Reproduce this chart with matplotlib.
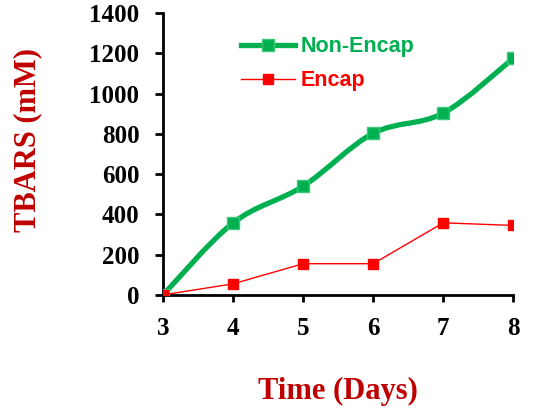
import matplotlib.pyplot as plt
from matplotlib.path import Path
from matplotlib.patches import PathPatch
from matplotlib.lines import Line2D

days = [3, 4, 5, 6, 7, 8]
non_encap = [0, 358, 540, 803, 903, 1175]
encap = [0, 55, 155, 155, 358, 345]

GREEN = "#00B050"
RED = "#FF0000"
LABEL_RED = "#C00000"


def smooth_path(xs, ys):
    # Bezier segments through the points (like a spreadsheet "smoothed line")
    pts = list(zip(xs, ys))
    verts = [pts[0]]
    codes = [Path.MOVETO]
    n = len(pts)
    for i in range(n - 1):
        p0 = pts[i - 1] if i > 0 else pts[i]
        p1 = pts[i]
        p2 = pts[i + 1]
        p3 = pts[i + 2] if i + 2 < n else pts[i + 1]
        c1 = (p1[0] + (p2[0] - p0[0]) / 6, p1[1] + (p2[1] - p0[1]) / 6)
        c2 = (p2[0] - (p3[0] - p1[0]) / 6, p2[1] - (p3[1] - p1[1]) / 6)
        verts += [c1, c2, p2]
        codes += [Path.CURVE4] * 3
    return Path(verts, codes)


fig = plt.figure(figsize=(5.33, 4.09), dpi=100)
ax = fig.add_axes([0.306, 0.279, 0.657, 0.689])

ax.add_patch(PathPatch(smooth_path(days, non_encap), facecolor="none",
                       edgecolor=GREEN, lw=3.8, capstyle="round", zorder=3))
ax.plot(days, non_encap, ls="none", marker="s", ms=9, color=GREEN,
        mec="#3cc878", mew=1.0, zorder=4)
ax.plot(days, encap, color=RED, lw=1.0, marker="s", ms=7, zorder=5)

ax.set_xlim(3, 8)
ax.set_ylim(0, 1400)
ax.set_xticks(days)
ax.set_yticks(range(0, 1401, 200))

for s in ["top", "right"]:
    ax.spines[s].set_visible(False)
for s in ["left", "bottom"]:
    ax.spines[s].set_linewidth(2)
    ax.spines[s].set_color("black")

ax.tick_params(axis="y", direction="out", length=6, width=2, pad=11)
ax.tick_params(axis="x", direction="out", length=5, width=2, pad=11)
for lab in ax.get_xticklabels() + ax.get_yticklabels():
    lab.set_fontfamily("Liberation Serif")
    lab.set_fontweight("bold")
    lab.set_fontsize(18)

ax.set_ylabel("TBARS (mM)", fontfamily="Liberation Serif", fontweight="bold",
              fontsize=22, color=LABEL_RED)
ax.set_xlabel("Time (Days)", fontfamily="Liberation Serif", fontweight="bold",
              fontsize=22, color=LABEL_RED)
ax.yaxis.set_label_coords(-0.346, 0.55)
ax.xaxis.set_label_coords(0.5, -0.29)
ax.patch.set_alpha(0)

handles = [
    Line2D([], [], color=GREEN, lw=3.8, marker="s", ms=9, mec="#3cc878"),
    Line2D([], [], color=RED, lw=1.0, marker="s", ms=7),
]
leg = ax.legend(handles, ["Non-Encap", "Encap"], loc="upper left",
                bbox_to_anchor=(0.4525, 0.911), bbox_transform=fig.transFigure,
                frameon=False, handlelength=2.5, handletextpad=0.25,
                labelspacing=0.6, borderaxespad=0, borderpad=0,
                prop={"family": "Liberation Sans", "weight": "bold", "size": 15.5})
for txt, c in zip(leg.get_texts(), [GREEN, RED]):
    txt.set_color(c)

fig.savefig("out.png", dpi=100)
